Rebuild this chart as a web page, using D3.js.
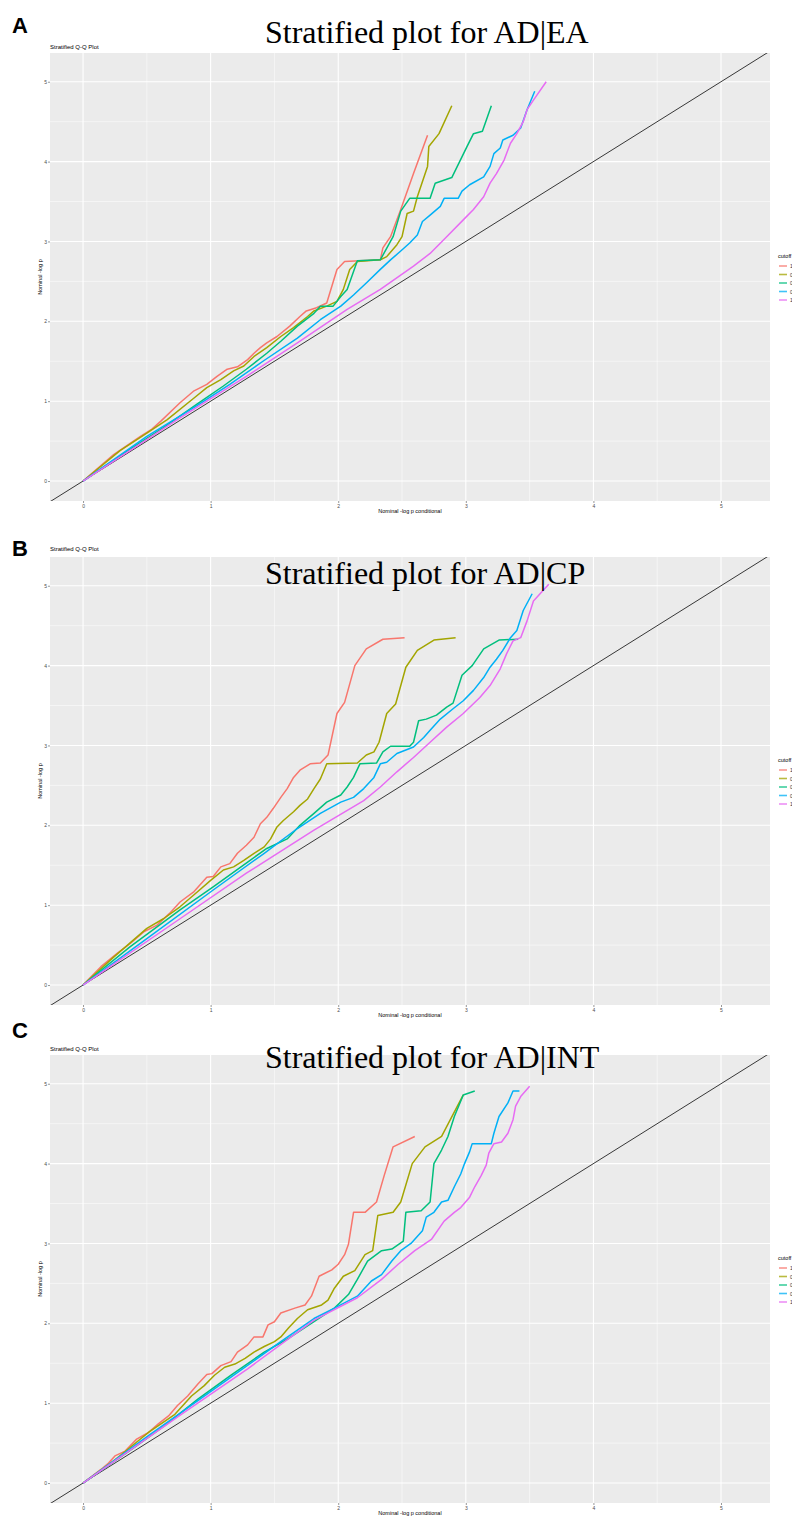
<!DOCTYPE html>
<html lang="en">
<head>
<meta charset="UTF-8">
<title>Stratified Q-Q Plot</title>
<style>
    body { margin: 0; background: #fff; }
    svg { display: block; }
</style>
</head>
<body>
<svg id="chart" width="792" height="1517"></svg>
<script src="https://d3js.org/d3.v7.min.js"></script>
<script>
// axis ticks and legend
const xTicks = [0, 1, 2, 3, 4, 5];
const yTicks = [0, 1, 2, 3, 4, 5];
const cutoffs = ["1e-04", "0.001", "0.01", "0.1", "1"];
const cutoffColors = ["#F8766D", "#A3A500", "#00BF7D", "#00B0F6", "#E76BF3"];
const panelLetters = ["A", "B", "C"];
const panelTitles = ["Stratified plot for AD|EA", "Stratified plot for AD|CP", "Stratified plot for AD|INT"];

// AD|EA  (x = nominal -log p conditional, y = nominal -log p)
const eaCut1 = [[0,0],[0.24,0.33],[0.45,0.56],[0.54,0.65],[0.61,0.75],[0.76,0.98],[0.87,1.13],[0.97,1.21],[1.05,1.31],[1.13,1.40],[1.21,1.43],[1.29,1.52],[1.34,1.60],[1.39,1.67],[1.44,1.73],[1.52,1.81],[1.62,1.94],[1.70,2.06],[1.75,2.13],[1.83,2.17],[1.91,2.23],[1.99,2.65],[2.05,2.75],[2.17,2.76],[2.33,2.77],[2.35,2.92],[2.41,3.06],[2.49,3.40],[2.59,3.85],[2.70,4.33]];
const eaCut2 = [[0,0],[0.29,0.38],[0.50,0.60],[0.66,0.77],[0.87,1.04],[0.97,1.17],[1.08,1.27],[1.18,1.38],[1.26,1.44],[1.34,1.56],[1.44,1.67],[1.55,1.81],[1.65,1.92],[1.76,2.06],[1.81,2.13],[1.91,2.19],[1.99,2.25],[2.04,2.40],[2.09,2.65],[2.15,2.75],[2.33,2.77],[2.38,2.81],[2.46,2.96],[2.50,3.06],[2.54,3.35],[2.59,3.38],[2.62,3.56],[2.70,3.94],[2.71,4.19],[2.79,4.35],[2.89,4.70]];
const eaCut3 = [[0,0],[0.37,0.40],[0.63,0.67],[0.89,0.96],[1.10,1.19],[1.28,1.40],[1.44,1.60],[1.55,1.75],[1.68,1.94],[1.81,2.10],[1.86,2.19],[1.96,2.19],[2.02,2.31],[2.07,2.40],[2.15,2.76],[2.33,2.77],[2.43,3.06],[2.49,3.38],[2.56,3.54],[2.72,3.54],[2.76,3.73],[2.89,3.80],[3.01,4.19],[3.06,4.35],[3.13,4.38],[3.20,4.70]];
const eaCut4 = [[0,0],[0.50,0.56],[0.89,0.94],[1.15,1.21],[1.41,1.50],[1.68,1.79],[1.86,2.02],[2.02,2.19],[2.12,2.33],[2.22,2.48],[2.33,2.65],[2.41,2.77],[2.49,2.88],[2.56,2.98],[2.62,3.08],[2.66,3.25],[2.72,3.33],[2.80,3.44],[2.83,3.54],[2.94,3.54],[2.97,3.63],[3.03,3.71],[3.14,3.81],[3.19,3.94],[3.22,4.10],[3.27,4.17],[3.29,4.27],[3.37,4.33],[3.43,4.42],[3.48,4.65],[3.54,4.88]];
const eaCut5 = [[0,0],[0.76,0.79],[1.28,1.31],[1.68,1.73],[2.07,2.15],[2.33,2.40],[2.59,2.69],[2.72,2.85],[2.85,3.06],[2.98,3.27],[3.06,3.40],[3.14,3.56],[3.19,3.73],[3.24,3.85],[3.30,4.02],[3.35,4.23],[3.40,4.35],[3.45,4.50],[3.48,4.65],[3.53,4.77],[3.63,5.00]];

// AD|CP
const cpCut1 = [[0,0],[0.14,0.23],[0.27,0.40],[0.37,0.52],[0.48,0.67],[0.58,0.75],[0.68,0.90],[0.76,1.04],[0.87,1.17],[0.97,1.35],[1.02,1.36],[1.08,1.48],[1.15,1.52],[1.21,1.65],[1.28,1.75],[1.34,1.85],[1.39,2.02],[1.44,2.10],[1.49,2.21],[1.55,2.35],[1.60,2.46],[1.65,2.60],[1.70,2.69],[1.78,2.77],[1.86,2.78],[1.92,2.88],[1.99,3.40],[2.05,3.54],[2.13,4.00],[2.22,4.21],[2.35,4.33],[2.52,4.35]];
const cpCut2 = [[0,0],[0.24,0.35],[0.50,0.71],[0.63,0.83],[0.76,0.98],[0.87,1.13],[1.00,1.31],[1.10,1.44],[1.18,1.48],[1.26,1.56],[1.34,1.65],[1.42,1.73],[1.47,1.83],[1.52,1.98],[1.57,2.06],[1.65,2.17],[1.70,2.25],[1.76,2.33],[1.81,2.46],[1.86,2.58],[1.91,2.77],[2.15,2.78],[2.22,2.88],[2.28,2.92],[2.32,3.04],[2.38,3.40],[2.45,3.52],[2.53,3.98],[2.62,4.19],[2.75,4.32],[2.92,4.35]];
const cpCut3 = [[0,0],[0.37,0.48],[0.76,0.94],[1.02,1.23],[1.29,1.54],[1.44,1.71],[1.60,1.83],[1.70,2.00],[1.81,2.15],[1.91,2.29],[2.02,2.38],[2.07,2.48],[2.12,2.60],[2.17,2.77],[2.30,2.78],[2.35,2.92],[2.41,2.99],[2.56,2.99],[2.59,3.04],[2.63,3.31],[2.69,3.33],[2.77,3.38],[2.85,3.48],[2.90,3.53],[2.97,3.88],[3.05,4.00],[3.14,4.21],[3.26,4.32],[3.41,4.33]];
const cpCut4 = [[0,0],[0.50,0.58],[1.02,1.19],[1.42,1.65],[1.68,1.96],[1.86,2.15],[2.02,2.29],[2.12,2.35],[2.20,2.46],[2.28,2.60],[2.33,2.77],[2.38,2.79],[2.46,2.90],[2.59,2.98],[2.67,3.10],[2.72,3.19],[2.80,3.33],[2.90,3.46],[2.98,3.56],[3.06,3.69],[3.14,3.85],[3.19,3.98],[3.24,4.08],[3.29,4.19],[3.35,4.35],[3.40,4.44],[3.45,4.69],[3.52,4.90]];
const cpCut5 = [[0,0],[0.76,0.83],[1.28,1.40],[1.81,1.94],[2.20,2.31],[2.33,2.48],[2.46,2.67],[2.59,2.85],[2.72,3.04],[2.85,3.23],[2.98,3.40],[3.11,3.60],[3.19,3.75],[3.27,3.96],[3.32,4.15],[3.37,4.31],[3.43,4.35],[3.48,4.56],[3.53,4.81],[3.65,5.02]];

// AD|INT
const intCut1 = [[0,0],[0.14,0.17],[0.20,0.25],[0.25,0.34],[0.33,0.40],[0.42,0.55],[0.51,0.63],[0.59,0.74],[0.67,0.84],[0.74,0.97],[0.82,1.09],[0.90,1.24],[0.97,1.36],[1.01,1.37],[1.08,1.47],[1.16,1.52],[1.21,1.64],[1.29,1.73],[1.34,1.83],[1.41,1.83],[1.45,1.98],[1.50,2.02],[1.55,2.13],[1.66,2.19],[1.74,2.23],[1.79,2.34],[1.85,2.59],[1.95,2.67],[2.00,2.74],[2.05,2.86],[2.08,2.99],[2.12,3.39],[2.21,3.39],[2.30,3.52],[2.36,3.85],[2.43,4.21],[2.60,4.34]];
const intCut2 = [[0,0],[0.25,0.29],[0.51,0.63],[0.72,0.86],[0.85,1.09],[0.95,1.22],[1.03,1.35],[1.11,1.45],[1.19,1.49],[1.27,1.56],[1.34,1.64],[1.42,1.71],[1.50,1.77],[1.55,1.83],[1.61,1.94],[1.68,2.06],[1.76,2.17],[1.87,2.23],[1.92,2.29],[1.97,2.44],[2.04,2.59],[2.13,2.66],[2.21,2.86],[2.27,2.91],[2.31,3.35],[2.43,3.39],[2.49,3.52],[2.58,4.00],[2.68,4.21],[2.81,4.34],[2.98,4.86]];
const intCut3 = [[0,0],[0.38,0.42],[0.64,0.72],[0.90,1.05],[1.16,1.35],[1.42,1.64],[1.61,1.81],[1.81,2.02],[1.97,2.19],[2.08,2.36],[2.15,2.55],[2.23,2.78],[2.34,2.91],[2.42,2.93],[2.51,3.03],[2.53,3.39],[2.65,3.41],[2.72,3.52],[2.75,4.00],[2.81,4.17],[2.86,4.34],[2.91,4.59],[2.98,4.86],[3.07,4.91]];
const intCut4 = [[0,0],[0.51,0.59],[1.03,1.18],[1.55,1.77],[1.81,2.06],[1.97,2.19],[2.15,2.34],[2.26,2.53],[2.34,2.61],[2.42,2.78],[2.49,2.91],[2.57,3.00],[2.66,3.16],[2.69,3.33],[2.75,3.39],[2.81,3.52],[2.86,3.54],[2.91,3.71],[2.96,3.87],[2.99,4.00],[3.03,4.15],[3.05,4.25],[3.20,4.25],[3.22,4.38],[3.26,4.59],[3.33,4.76],[3.37,4.91],[3.42,4.91]];
const intCut5 = [[0,0],[0.77,0.86],[1.29,1.43],[1.81,2.04],[2.15,2.32],[2.34,2.55],[2.47,2.74],[2.60,2.91],[2.73,3.05],[2.83,3.28],[2.91,3.39],[2.96,3.45],[3.03,3.58],[3.07,3.71],[3.12,3.85],[3.16,3.98],[3.18,4.13],[3.22,4.25],[3.28,4.27],[3.33,4.38],[3.37,4.55],[3.39,4.72],[3.43,4.84],[3.50,4.97]];

const panelSeries = [
    [eaCut1, eaCut2, eaCut3, eaCut4, eaCut5],
    [cpCut1, cpCut2, cpCut3, cpCut4, cpCut5],
    [intCut1, intCut2, intCut3, intCut4, intCut5]
];

// layout
const panelLeft = 50, panelRight = 770, panelH = 448;
const panelTops = [53, 557, 1055];
const letterY = [33, 556, 1038];
const subtitleY = [49, 551, 1051];
const titleY = [43, 584, 1068];
const sans = "'Liberation Sans', Arial, Helvetica, sans-serif";

const svg = d3.select("#chart");

const x = d3.scaleLinear().domain([-0.259, 5.384]).range([panelLeft, panelRight]);

panelTops.forEach((top, p) => {
    const y = d3.scaleLinear().domain([-0.25, 5.36]).range([top + panelH, top]);
    const g = svg.append("g");

    // panel background
    g.append("rect")
        .attr("x", panelLeft).attr("y", top)
        .attr("width", panelRight - panelLeft).attr("height", panelH)
        .attr("fill", "#EBEBEB");

    // minor grid
    const minor = [0.5, 1.5, 2.5, 3.5, 4.5];
    g.selectAll(".vminor").data(minor).enter().append("line")
        .attr("x1", d => x(d)).attr("x2", d => x(d))
        .attr("y1", top).attr("y2", top + panelH)
        .attr("stroke", "#fff").attr("stroke-width", 0.5);
    g.selectAll(".hminor").data(minor).enter().append("line")
        .attr("y1", d => y(d)).attr("y2", d => y(d))
        .attr("x1", panelLeft).attr("x2", panelRight)
        .attr("stroke", "#fff").attr("stroke-width", 0.5);

    // major grid
    g.selectAll(".vmajor").data(xTicks).enter().append("line")
        .attr("x1", d => x(d)).attr("x2", d => x(d))
        .attr("y1", top).attr("y2", top + panelH)
        .attr("stroke", "#fff").attr("stroke-width", 1.1);
    g.selectAll(".hmajor").data(yTicks).enter().append("line")
        .attr("y1", d => y(d)).attr("y2", d => y(d))
        .attr("x1", panelLeft).attr("x2", panelRight)
        .attr("stroke", "#fff").attr("stroke-width", 1.1);

    // axes
    const xAxis = g.append("g")
        .attr("transform", `translate(0,${top + panelH})`)
        .call(d3.axisBottom(x).tickValues(xTicks).tickFormat(d3.format("d")).tickSize(2).tickPadding(1));
    const yAxis = g.append("g")
        .attr("transform", `translate(${panelLeft},0)`)
        .call(d3.axisLeft(y).tickValues(yTicks).tickFormat(d3.format("d")).tickSize(2).tickPadding(1));
    [xAxis, yAxis].forEach(a => {
        a.select(".domain").remove();
        a.selectAll(".tick line").attr("stroke", "#333").attr("stroke-width", 0.5);
        a.selectAll(".tick text").attr("fill", "#4D4D4D")
            .style("font-family", sans).style("font-size", "5px");
    });

    // clip for lines
    const clipId = "clip" + p;
    g.append("clipPath").attr("id", clipId).append("rect")
        .attr("x", panelLeft).attr("y", top)
        .attr("width", panelRight - panelLeft).attr("height", panelH);

    const plot = g.append("g").attr("clip-path", `url(#${clipId})`);

    // y = x reference
    plot.append("line")
        .attr("x1", x(-0.3)).attr("y1", y(-0.3))
        .attr("x2", x(5.5)).attr("y2", y(5.5))
        .attr("stroke", "#222").attr("stroke-width", 0.9);

    const line = d3.line().x(d => x(d[0])).y(d => y(d[1]));
    plot.selectAll(".qq").data(panelSeries[p]).enter().append("path")
        .attr("d", line)
        .attr("fill", "none")
        .attr("stroke", (d, i) => cutoffColors[i])
        .attr("stroke-width", 1.5)
        .attr("stroke-linejoin", "round");

    // axis titles
    g.append("text")
        .attr("x", (panelLeft + panelRight) / 2).attr("y", top + panelH + 12)
        .attr("text-anchor", "middle")
        .style("font-family", sans).style("font-size", "5.5px")
        .text("Nominal -log p conditional");
    g.append("text")
        .attr("transform", `translate(42,${top + panelH / 2}) rotate(-90)`)
        .attr("text-anchor", "middle")
        .style("font-family", sans).style("font-size", "5.5px")
        .text("Nominal -log p");

    // plot subtitle
    g.append("text")
        .attr("x", panelLeft).attr("y", subtitleY[p])
        .style("font-family", sans).style("font-size", "6px")
        .text("Stratified Q-Q Plot");

    // legend (cut off by the right edge, as in the source figure)
    const lg = g.append("g").attr("transform", `translate(778,${top + 205})`);
    lg.append("text").attr("x", 0).attr("y", 0)
        .style("font-family", sans).style("font-size", "5.5px")
        .text("cutoff");
    cutoffs.forEach((c, i) => {
        const ly = 8 + i * 8.5;
        lg.append("line")
            .attr("x1", 1).attr("x2", 9).attr("y1", ly).attr("y2", ly)
            .attr("stroke", cutoffColors[i]).attr("stroke-width", 1.6)
            .attr("opacity", 0.75);
        lg.append("text").attr("x", 12).attr("y", ly + 2)
            .style("font-family", sans).style("font-size", "5px")
            .attr("fill", "#333")
            .text(c);
    });

    // big title
    g.append("text")
        .attr("x", 265).attr("y", titleY[p])
        .style("font-family", "'Liberation Serif', 'Times New Roman', serif")
        .style("font-size", "32px")
        .text(panelTitles[p]);

    // panel letter
    g.append("text")
        .attr("x", 12).attr("y", letterY[p])
        .style("font-family", sans).style("font-weight", "bold").style("font-size", "22px")
        .text(panelLetters[p]);
});
</script>
</body>
</html>
